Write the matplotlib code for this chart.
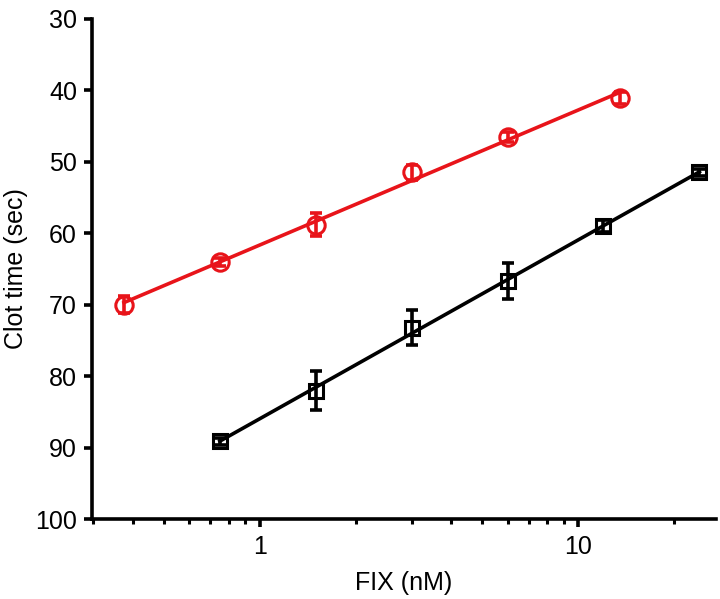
import numpy as np
import matplotlib
matplotlib.use("Agg")
import matplotlib.pyplot as plt
from matplotlib.ticker import LogLocator, NullFormatter, FixedLocator

plt.rcParams['font.family'] = ['Liberation Sans', 'DejaVu Sans']

# donnees
fix_red = [0.375, 0.75, 1.5, 3.0, 6.0, 13.5]
clot_red = [70.0, 64.0, 58.8, 51.5, 46.6, 41.1]
err_red = [1.2, 0.6, 1.6, 1.1, 0.7, 0.8]

fix_black = [0.75, 1.5, 3.0, 6.0, 12.0, 24.0]
clot_black = [89.1, 82.0, 73.2, 66.7, 59.0, 51.5]
err_black = [0.5, 2.7, 2.5, 2.5, 0.8, 0.5]

def trace_serie(ax, x, y, err, col, marker, ms):
    x = np.asarray(x); y = np.asarray(y)
    # regression lineaire en log10(x)
    pente, ordo = np.polyfit(np.log10(x), y, 1)
    xs = np.array([x.min(), x.max()])
    ax.plot(xs, ordo + pente * np.log10(xs), '-', color=col, lw=2.6, zorder=2)
    ax.errorbar(x, y, yerr=err, fmt='none', ecolor=col, elinewidth=2.6,
                capsize=4.5, capthick=2.6, zorder=3)
    ax.plot(x, y, marker, ls='none', ms=ms, mfc='none', mec=col, mew=2.2, zorder=4)

fig = plt.figure(figsize=(7.2, 5.99), dpi=100)
ax = fig.add_axes([0.128, 0.133, 0.866, 0.836])

trace_serie(ax, fix_red, clot_red, err_red, '#e8141a', 'o', 12.5)
trace_serie(ax, fix_black, clot_black, err_black, 'black', 's', 10.5)

ax.set_xscale('log')
ax.set_xlim(0.298, 27)
ax.set_ylim(100, 30)
ax.yaxis.set_major_locator(FixedLocator(np.arange(30, 101, 10)))
ax.xaxis.set_major_locator(FixedLocator([1, 10]))
ax.xaxis.set_minor_locator(LogLocator(base=10, subs=np.arange(2, 10)))
ax.xaxis.set_minor_formatter(NullFormatter())
ax.set_xticklabels(['1', '10'])

for s in ['top', 'right']:
    ax.spines[s].set_visible(False)
for s in ['left', 'bottom']:
    ax.spines[s].set_linewidth(2.6)
ax.tick_params(which='major', direction='out', length=6, width=2.6, labelsize=18, pad=5)
ax.tick_params(which='minor', direction='out', length=3.5, width=2.2)

ax.set_xlabel("FIX (nM)", fontsize=18, labelpad=9)
ax.set_ylabel("Clot time (sec)", fontsize=18, labelpad=5)

plt.savefig('out.png', dpi=100)
